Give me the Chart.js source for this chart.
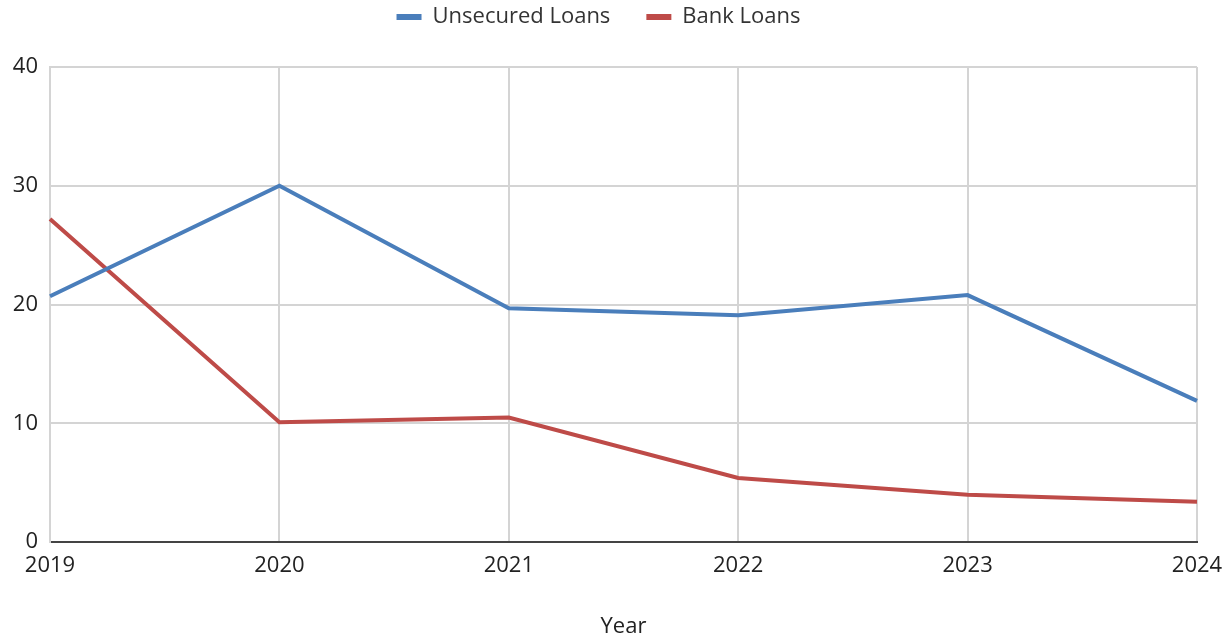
<!DOCTYPE html>
<html>
<head>
<meta charset="utf-8">
<script src="https://cdn.jsdelivr.net/npm/chart.js@4"></script>
<style>
  html, body { margin: 0; padding: 0; background: #fff; }
  #wrap { width: 1227px; height: 644px; }
</style>
</head>
<body>
<div id="wrap"><canvas id="loanChart"></canvas></div>
<script>
const years = ['2019', '2020', '2021', '2022', '2023', '2024'];
const unsecuredLoans = [20.7, 30.0, 19.7, 19.1, 20.8, 11.9];
const bankLoans = [27.2, 10.1, 10.5, 5.4, 4.0, 3.4];
const yTicks = [0, 10, 20, 30, 40];

const font = { family: '"Open Sans", sans-serif', size: 22 };

// legend sits higher up and the plot starts a bit below it
const legendGap = {
    id: 'legendGap',
    beforeInit(chart) {
        const fit = chart.legend.fit;
        chart.legend.fit = function () {
            fit.bind(chart.legend)();
            this.height -= 1;
        };
    },
    afterLayout(chart) {
        const lg = chart.legend;
        lg.top -= 30;
        lg.bottom -= 30;
        lg.left -= 15;
        lg.right -= 15;
    }
};

new Chart(document.getElementById('loanChart'), {
    type: 'line',
    data: {
        labels: years,
        datasets: [
            {
                label: 'Unsecured Loans',
                data: unsecuredLoans,
                borderColor: '#4a7ebb',
                backgroundColor: '#4a7ebb',
                borderWidth: 4,
                pointRadius: 0,
                tension: 0
            },
            {
                label: 'Bank Loans',
                data: bankLoans,
                borderColor: '#be4b48',
                backgroundColor: '#be4b48',
                borderWidth: 4,
                pointRadius: 0,
                tension: 0
            }
        ]
    },
    options: {
        responsive: true,
        maintainAspectRatio: false,
        animation: false,
        layout: { padding: { left: 0, right: 0, top: 0, bottom: 4 } },
        plugins: {
            legend: {
                position: 'top',
                labels: {
                    boxWidth: 25,
                    boxHeight: 6,
                    padding: 36,
                    color: '#333',
                    font: font,
                    generateLabels: chart => {
                        const items = Chart.defaults.plugins.legend.labels.generateLabels(chart);
                        items.forEach(it => { it.lineWidth = 0; });
                        return items;
                    }
                }
            },
            tooltip: { enabled: false }
        },
        scales: {
            x: {
                offset: false,
                afterFit: s => { s.paddingLeft = 0; s.paddingRight = 30; },
                grid: { color: '#d4d4d4', lineWidth: 2, drawTicks: false },
                border: { color: '#444', width: 2 },
                ticks: { color: '#222', padding: 10, maxRotation: 0, font: font },
                title: {
                    display: true,
                    text: 'Year',
                    color: '#222',
                    padding: { top: 25, bottom: 0 },
                    font: font
                }
            },
            y: {
                min: 0,
                max: 40,
                afterFit: s => { s.width = 50; },
                afterBuildTicks: s => { s.ticks = yTicks.map(v => ({ value: v })); },
                grid: { color: '#d4d4d4', lineWidth: 2, drawTicks: false },
                border: { color: '#d4d4d4', width: 2 },
                ticks: { color: '#222', padding: 12, font: font }
            }
        }
    },
    plugins: [legendGap]
});
</script>
</body>
</html>
